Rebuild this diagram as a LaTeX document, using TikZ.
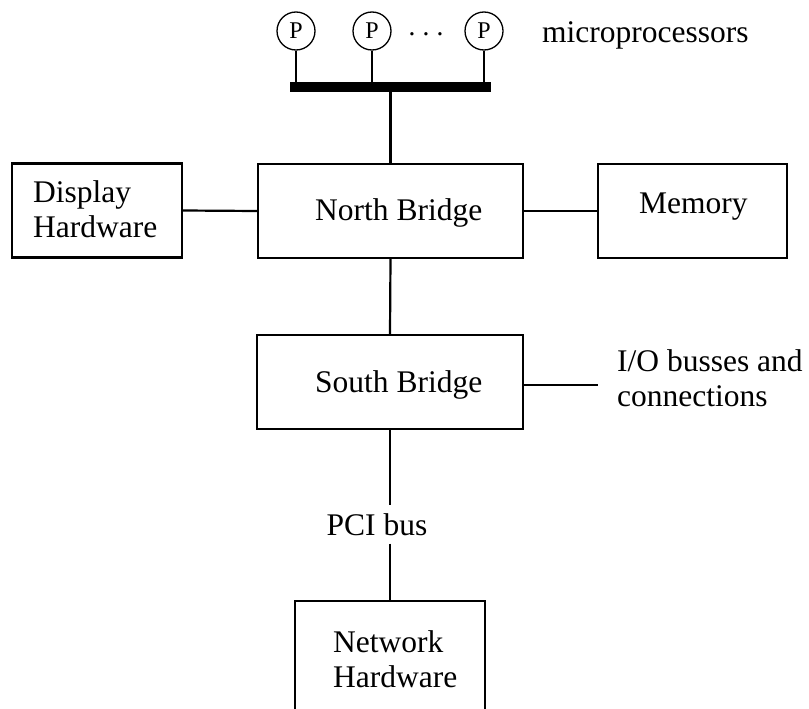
\documentclass[tikz,border=0pt]{standalone}
\usepackage{fontspec}
\setmainfont{Liberation Serif}
\begin{document}
\begin{tikzpicture}[x=1pt,y=-1pt,
  wire/.style={line width=2.2pt},
  box/.style={draw,line width=2.2pt,rectangle,inner sep=0pt,minimum height=94pt},
  lbl/.style={inner sep=0pt,font=\fontsize{31.5}{35}\selectfont},
  proc/.style={draw,circle,line width=1.3pt,minimum size=38pt,inner sep=0pt,
               font=\fontsize{24}{26}\selectfont}]
\useasboundingbox (0,0) rectangle (809,709);
\clip (0,0) rectangle (809,709);

% processors and the front-side bus
\node[proc] (p1) at (296,31) {P};
\node[proc] (p2) at (372,31) {P};
\node[proc] (p3) at (484,31) {P};
\node[inner sep=0pt,font=\fontsize{28}{30}\selectfont] (dots) at (426,38) {·\,·\,·};
\node[lbl,anchor=base west] (mp) at (542,43) {microprocessors};
\node[fill=black,inner sep=0pt,minimum width=201pt,minimum height=10.5pt] (bar) at (390.5,87) {};

% boxes
\node[box,minimum width=170pt] (disp) at (97,210.5) {};
\node[box,minimum width=265pt] (nb) at (390.5,211) {};
\node[box,minimum width=189pt] (mem) at (692.5,211) {};
\node[box,minimum width=266pt] (sb) at (390,382) {};
\node[box,minimum width=190pt,minimum height=200pt,anchor=north] (net) at (390,600) {};

% labels (a multi-line node's base is the baseline of its last line)
\node[lbl,align=left,anchor=base west] (dispt) at (33,237) {Display\\Hardware};
\node[lbl,anchor=base west] (nbt) at (315,220) {North Bridge};
\node[lbl,anchor=base west] (memt) at (639,213) {Memory};
\node[lbl,anchor=base west] (sbt) at (315,392) {South Bridge};
\node[lbl,align=left,anchor=base west] (iot) at (617,406) {I/O busses and\\connections};
\node[lbl,anchor=base,inner sep=8pt] (pci) at (377,535) {PCI bus};
\node[lbl,align=left,anchor=base west] (nett) at (333,687) {Network\\Hardware};
\coordinate (ioend) at (598,385);

% connections
\foreach \p in {p1,p2,p3} \draw[wire] (\p.south) -- (\p |- bar.north);
\draw[wire] (bar.south) -- (nb.north);
\draw[wire] (disp.east) -- (nb.west);
\draw[wire] (nb.east) -- (mem.west);
\draw[wire] (nb.south) -- (sb.north);
\draw[wire] (sb.east |- ioend) -- (ioend);
\draw[wire] (sb.south) -- (sb.south |- pci.north);
\draw[wire] (net.north |- pci.south) -- (net.north);
\end{tikzpicture}
\end{document}
